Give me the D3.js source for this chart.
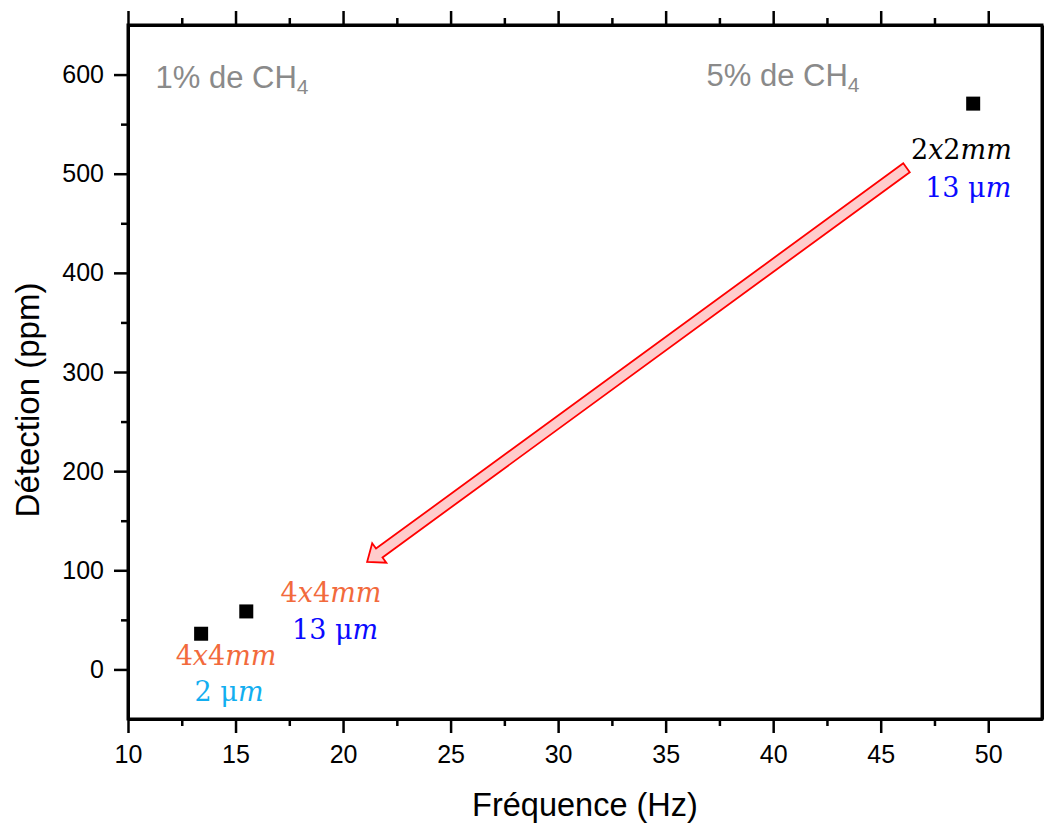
<!DOCTYPE html>
<html>
<head>
<meta charset="utf-8">
<script src="https://cdn.jsdelivr.net/npm/d3@7"></script>
<style>
  html, body { margin: 0; padding: 0; background: #fff; }
  svg { display: block; }
</style>
</head>
<body>
<svg id="chart" width="1044" height="825"></svg>
<script>
// ---- data ----
const freqHz = [13.4, 15.5, 49.3];
const detectionPpm = [36, 58.5, 570.7];

const xTicks = [10, 15, 20, 25, 30, 35, 40, 45, 50];
const yTicks = [0, 100, 200, 300, 400, 500, 600];

// annotation labels: text, colour, anchor (data coords: centre x, baseline y)
const labelTexts = ["2x2mm", "13 μm", "4x4mm", "13 μm", "4x4mm", "2 μm"];
const labelColors = ["#000000", "#0a0aff", "#f26a3c", "#0a0aff", "#f26a3c", "#12aef0"];
const labelX = [48.75, 49.07, 19.44, 19.63, 14.56, 14.70];
const labelY = [515, 477, 67.6, 30.3, 4.0, -32.3];

// concentration notes
const noteTexts = ["1% de CH", "5% de CH"];
const noteX = [11.28, 36.9];
const noteY = [586, 588];

// arrow (data coords): from tail to tip
const arrowFrom = [46.2, 506];
const arrowTo = [21.12, 108.5];

// ---- layout ----
const svg = d3.select("#chart");
const L = 128, R = 1042, T = 25, B = 719;

const x = d3.scaleLinear().domain([10, 52.5]).range([L, R]);
const y = d3.scaleLinear().domain([-50, 650]).range([B, T]);

const font = "'Liberation Sans', Arial, sans-serif";

// axes
const xMinor = d3.range(12.5, 52.5, 5);
const yMinor = d3.range(-50, 651, 100).filter(v => v > -50 && v < 650);

function styleAxis(g) {
  g.selectAll("path").attr("stroke", "#000").attr("stroke-width", 3);
  g.selectAll("line").attr("stroke", "#000").attr("stroke-width", 2.5);
  g.selectAll("text").attr("font-family", font).attr("font-size", 25).attr("fill", "#000");
}

// bottom
svg.append("g").attr("transform", `translate(0,${B})`)
  .call(d3.axisBottom(x).tickValues(xTicks).tickSize(14).tickPadding(12).tickSizeOuter(0).tickFormat(d3.format("d")))
  .call(styleAxis);
svg.append("g").attr("transform", `translate(0,${B})`)
  .call(d3.axisBottom(x).tickValues(xMinor).tickSize(7).tickSizeOuter(0).tickFormat(""))
  .call(styleAxis);
// top
svg.append("g").attr("transform", `translate(0,${T})`)
  .call(d3.axisTop(x).tickValues(xTicks).tickSize(14).tickSizeOuter(0).tickFormat(""))
  .call(styleAxis);
svg.append("g").attr("transform", `translate(0,${T})`)
  .call(d3.axisTop(x).tickValues(xMinor).tickSize(7).tickSizeOuter(0).tickFormat(""))
  .call(styleAxis);
// left
svg.append("g").attr("transform", `translate(${L},0)`)
  .call(d3.axisLeft(y).tickValues(yTicks).tickSize(14).tickPadding(10).tickSizeOuter(0).tickFormat(d3.format("d")))
  .call(styleAxis);
svg.append("g").attr("transform", `translate(${L},0)`)
  .call(d3.axisLeft(y).tickValues(yMinor).tickSize(7).tickSizeOuter(0).tickFormat(""))
  .call(styleAxis);
// right (no ticks)
svg.append("g").attr("transform", `translate(${R},0)`)
  .call(d3.axisRight(y).tickValues([]).tickSizeOuter(0))
  .call(styleAxis);

// frame
svg.append("rect").attr("x", L).attr("y", T).attr("width", R - L).attr("height", B - T)
  .attr("fill", "none").attr("stroke", "#000").attr("stroke-width", 3);

// axis titles
svg.append("text")
  .attr("x", (L + R) / 2).attr("y", 816)
  .attr("text-anchor", "middle")
  .attr("font-family", font).attr("font-size", 32.5)
  .text("Fréquence (Hz)");
svg.append("text")
  .attr("transform", "translate(39,400) rotate(-90)")
  .attr("text-anchor", "middle")
  .attr("font-family", font).attr("font-size", 33)
  .text("Détection (ppm)");

// notes
noteTexts.forEach((t, i) => {
  const tx = svg.append("text")
    .attr("x", x(noteX[i])).attr("y", y(noteY[i]))
    .attr("font-family", font).attr("font-size", 31).attr("fill", "#8a8a8a");
  tx.append("tspan").text(t);
  tx.append("tspan").attr("font-size", 21).attr("dy", 6).text("4");
});

// arrow (block arrow)
(function () {
  const x0 = x(arrowFrom[0]), y0 = y(arrowFrom[1]);
  const x1 = x(arrowTo[0]), y1 = y(arrowTo[1]);
  const dx = x1 - x0, dy = y1 - y0, len = Math.hypot(dx, dy);
  const ux = dx / len, uy = dy / len, px = -uy, py = ux;
  const sw = 5.5, hw = 12, hl = 15;
  const bx = x1 - ux * hl, by = y1 - uy * hl;
  const pts = [
    [x0 + px * sw, y0 + py * sw],
    [bx + px * sw, by + py * sw],
    [bx + px * hw, by + py * hw],
    [x1, y1],
    [bx - px * hw, by - py * hw],
    [bx - px * sw, by - py * sw],
    [x0 - px * sw, y0 - py * sw]
  ];
  svg.append("path")
    .attr("d", d3.line()(pts) + "Z")
    .attr("fill", "#ffcccc").attr("stroke", "#ff0000").attr("stroke-width", 1.8)
    .attr("stroke-linejoin", "miter");
})();

// points
const sq = 14;
svg.append("g").selectAll("rect")
  .data(freqHz.map((f, i) => [f, detectionPpm[i]]))
  .join("rect")
  .attr("x", d => x(d[0]) - sq / 2)
  .attr("y", d => y(d[1]) - sq / 2)
  .attr("width", sq).attr("height", sq)
  .attr("fill", "#000");

// math-style labels: latin letters italic, others upright
labelTexts.forEach((t, i) => {
  const tx = svg.append("text")
    .attr("x", x(labelX[i])).attr("y", y(labelY[i]))
    .attr("text-anchor", "middle")
    .attr("font-family", "'DejaVu Serif', serif").attr("font-size", 27)
    .attr("fill", labelColors[i]);
  const parts = t.match(/[a-z]+|[^a-z]+/g);
  parts.forEach(p => {
    tx.append("tspan")
      .attr("font-style", /[a-z]/.test(p) ? "italic" : "normal")
      .text(p);
  });
});
</script>
</body>
</html>
